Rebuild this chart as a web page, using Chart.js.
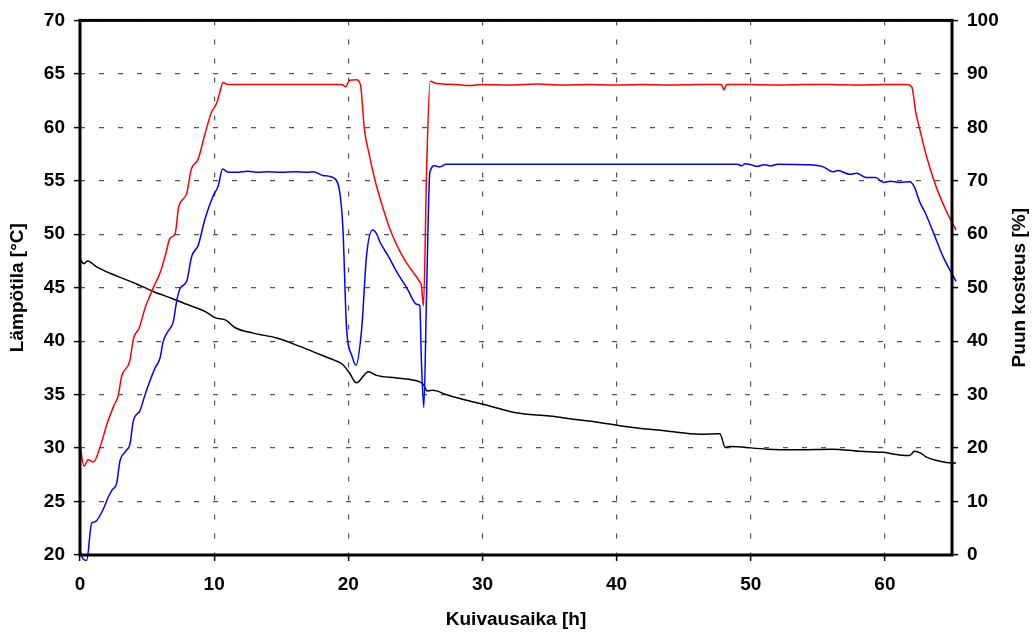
<!DOCTYPE html>
<html>
<head>
<meta charset="utf-8">
<script src="https://cdn.jsdelivr.net/npm/chart.js@4.4.1/dist/chart.umd.min.js"></script>
<style>
  body { margin: 0; background: #fff; }
  #wrap { width: 1036px; height: 637px; }
</style>
</head>
<body>
<div id="wrap"><canvas id="chart" width="1036" height="637"></canvas></div>
<script>
// kuivaus: kuiva lämpötila (punainen), märkä lämpötila (sininen), puun kosteus (musta)
const dryTime = [0, 0.3, 0.6, 1.0, 1.5, 2.0, 2.5, 2.85, 3.1, 3.7, 4.0, 4.4, 4.9, 5.1, 5.5, 6.0, 6.4, 6.7, 7.1, 7.35, 7.95, 8.3, 8.8, 9.3, 9.8, 10.2, 10.45, 10.65, 11.0, 13, 15, 17, 19.5, 19.8, 20.1, 20.6, 20.9, 21.2, 21.5, 22.0, 22.5, 23.1, 23.85, 24.4, 24.8, 25.3, 25.45, 25.6, 25.85, 26.1, 26.6, 28, 29, 30, 32, 34, 36, 38, 40, 42, 44, 46, 47.8, 48.0, 48.2, 50, 52, 54, 56, 58, 60, 61.6, 62.0, 62.3, 62.6, 63.1, 63.8, 64.6, 65.3];
const dryTemp = [30.3, 28.3, 28.9, 28.7, 30.1, 32.2, 33.9, 34.9, 36.7, 38.1, 40.3, 41.2, 43.3, 43.9, 45.1, 46.5, 48.2, 49.6, 50.1, 52.5, 53.8, 56.1, 57.0, 59.3, 61.4, 62.3, 63.4, 64.2, 64.0, 64.0, 64.0, 64.0, 64.0, 63.8, 64.4, 64.45, 64.0, 59.8, 57.8, 55.0, 52.8, 50.5, 48.4, 47.2, 46.5, 45.6, 45.2, 43.3, 56.7, 64.3, 64.1, 64.0, 63.9, 64.0, 63.95, 64.05, 63.95, 64.0, 63.95, 64.0, 63.95, 64.0, 64.0, 63.5, 64.0, 64.0, 63.95, 64.0, 64.0, 63.95, 64.0, 64.0, 63.8, 61.4, 59.8, 57.3, 54.5, 52.1, 50.4];

const wetTime = [0, 0.25, 0.5, 0.87, 1.12, 1.4, 1.74, 2.1, 2.4, 2.73, 2.98, 3.4, 3.73, 3.97, 4.47, 4.85, 5.22, 5.6, 5.96, 6.21, 6.6, 6.95, 7.2, 7.45, 7.95, 8.32, 8.82, 9.31, 9.93, 10.3, 10.63, 11.05, 11.7, 12.5, 13.3, 14, 15, 16, 17, 17.4, 18.1, 19.0, 19.4, 19.6, 19.87, 20.25, 20.57, 21.0, 21.36, 21.8, 22.1, 22.35, 23.0, 23.6, 24.4, 25.1, 25.33, 25.45, 25.63, 25.83, 26.08, 26.45, 26.8, 27.3, 49.0, 49.3, 49.6, 50.0, 50.5, 51, 51.5, 52, 54.2, 55.4, 56.1, 56.5, 57.4, 57.9, 58.6, 59.3, 59.9, 60.4, 61.1, 61.85, 62.2, 62.6, 62.97, 63.6, 64.3, 65.3];
const wetTemp = [20.4, 19.6, 19.5, 23.0, 23.1, 23.5, 24.3, 25.4, 26.1, 26.7, 28.8, 29.7, 30.4, 32.5, 33.5, 35.0, 36.3, 37.5, 38.4, 40.0, 41.0, 41.8, 43.7, 44.9, 45.6, 47.9, 49.0, 51.4, 53.6, 54.5, 56.1, 55.8, 55.8, 55.9, 55.8, 55.85, 55.8, 55.85, 55.8, 55.85, 55.5, 55.2, 53.6, 50.5, 41.2, 38.7, 37.75, 41.2, 48.0, 50.4, 50.05, 49.3, 47.9, 46.5, 44.9, 43.45, 43.3, 38.1, 33.8, 44.3, 55.8, 56.4, 56.3, 56.55, 56.55, 56.4, 56.6, 56.5, 56.35, 56.5, 56.4, 56.55, 56.5, 56.3, 55.85, 55.95, 55.6, 55.7, 55.3, 55.3, 54.85, 54.95, 54.85, 54.9, 54.4, 53.0, 52.1, 50.2, 48.0, 45.6];

const mcTime = [0, 0.15, 0.3, 0.55, 1.24, 2.24, 3.23, 4.22, 5.46, 6.95, 7.95, 9.44, 10.06, 10.9, 11.5, 12.9, 14.66, 15.9, 17.4, 18.4, 19.0, 19.6, 20.1, 20.6, 21.5, 22.1, 23.6, 25.3, 25.6, 25.88, 26.3, 27.3, 28.1, 30.05, 32.5, 35.0, 36.8, 38.7, 41.2, 43.7, 46.2, 47.7, 48.1, 48.4, 51.2, 53.65, 56.1, 58.1, 59.9, 61.1, 61.85, 62.2, 62.7, 63.1, 64.6, 65.3];
const moisture = [55.6, 54.8, 54.5, 55.0, 53.9, 52.7, 51.7, 50.7, 49.3, 47.9, 46.9, 45.4, 44.4, 43.9, 42.6, 41.5, 40.6, 39.5, 38.0, 37.0, 36.4, 35.6, 34.0, 32.2, 34.3, 33.6, 33.1, 32.4, 31.9, 30.7, 30.8, 30.0, 29.4, 28.2, 26.6, 26.0, 25.4, 24.8, 23.85, 23.2, 22.6, 22.7, 20.1, 20.3, 19.8, 19.7, 19.8, 19.4, 19.2, 18.7, 18.6, 19.4, 19.0, 18.3, 17.3, 17.2];

const xTicks = [0, 10, 20, 30, 40, 50, 60];

function pts(xs, ys) {
  return xs.map((x, i) => ({ x: x, y: ys[i] }));
}

Chart.defaults.font.family = "'Liberation Sans', Arial, sans-serif";
Chart.defaults.font.weight = 'bold';
Chart.defaults.font.size = 19;
Chart.defaults.color = '#000';

const gridStyle = {
  color: '#555',
  lineWidth: 1.2,
  tickBorderDash: [],
  tickColor: '#000',
  tickWidth: 1.5,
  tickLength: 6
};
// v4: katkoviiva ruudukolle tulee border.dash -asetuksesta
const dashedBorder = { display: false, dash: [5, 14] };

// kehys + oikean akselin otsikko
const frame = {
  id: 'frame',
  afterDraw(chart) {
    const a = chart.chartArea;
    const ctx = chart.ctx;
    ctx.save();
    ctx.strokeStyle = '#000';
    ctx.lineWidth = 3;
    ctx.strokeRect(a.left, a.top, a.right - a.left, a.bottom - a.top);
    ctx.translate(1020, (a.top + a.bottom) / 2);
    ctx.rotate(-Math.PI / 2);
    ctx.font = "bold 19px 'Liberation Sans', Arial, sans-serif";
    ctx.fillStyle = '#000';
    ctx.textAlign = 'center';
    ctx.textBaseline = 'middle';
    ctx.fillText('Puun kosteus [%]', 0, 0);
    ctx.restore();
  }
};

new Chart('chart', {
  type: 'line',
  data: {
    datasets: [
      { data: pts(dryTime, dryTemp), borderColor: '#ff0000', yAxisID: 'y' },
      { data: pts(wetTime, wetTemp), borderColor: '#0000ff', yAxisID: 'y' },
      { data: pts(mcTime, moisture), borderColor: '#000000', yAxisID: 'y2' }
    ]
  },
  options: {
    responsive: false,
    animation: false,
    layout: { padding: { top: 17, left: 0, right: 0, bottom: 0 } },
    plugins: { legend: { display: false }, tooltip: { enabled: false } },
    elements: {
      line: { borderWidth: 1.5, cubicInterpolationMode: 'monotone' },
      point: { radius: 0 }
    },
    datasets: { line: { clip: 8 } },
    scales: {
      x: {
        type: 'linear',
        min: 0,
        max: 65,
        afterBuildTicks: (s) => { s.ticks = xTicks.map(v => ({ value: v })); },
        afterFit: (s) => { s.height = 82; },
        ticks: { padding: 12, maxRotation: 0 },
        grid: gridStyle,
        border: dashedBorder,
        title: { display: true, text: 'Kuivausaika [h]', padding: { top: 0, bottom: 6 } }
      },
      y: {
        position: 'left',
        min: 20,
        max: 70,
        ticks: { stepSize: 5, padding: 9 },
        afterFit: (s) => { s.width = 80; },
        grid: gridStyle,
        border: dashedBorder,
        title: { display: true, text: 'Lämpötila [°C]', padding: { top: 6, bottom: 0 } }
      },
      y2: {
        position: 'right',
        min: 0,
        max: 100,
        ticks: { stepSize: 10, padding: 9 },
        afterFit: (s) => { s.width = 84; },
        grid: Object.assign({}, gridStyle, { drawOnChartArea: false }),
        border: dashedBorder
      }
    }
  },
  plugins: [frame]
});
</script>
</body>
</html>
